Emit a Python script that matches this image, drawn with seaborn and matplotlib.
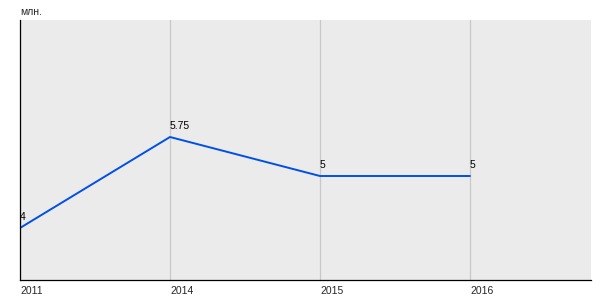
import matplotlib
matplotlib.use("Agg")
import matplotlib.pyplot as plt
import seaborn as sns
import pandas as pd

years = ["2011", "2014", "2015", "2016"]
values = [4, 5.75, 5, 5]
value_labels = ["4", "5.75", "5", "5"]
unit_label = "млн."

sns.set_theme(style="white")
plt.rcParams['font.family'] = ['Liberation Sans', 'DejaVu Sans']

df = pd.DataFrame({"pos": range(len(years)), "value": values})

fig = plt.figure(figsize=(6, 3), dpi=100)
ax = fig.add_axes([20/600, 20/300, 571/600, 260/300])
ax.set_facecolor("#ebebeb")

sns.lineplot(data=df, x="pos", y="value", ax=ax, color="#0050e6", linewidth=1.4)

ax.set_xlim(0, 3.807)
ax.set_ylim(3, 8)
ax.set_xticks(df["pos"])
ax.set_xticklabels(years, fontsize=7.5, ha="left")
ax.set_yticks([])
ax.set_xlabel("")
ax.set_ylabel("")
ax.tick_params(axis="x", length=0, pad=4)
for x in df["pos"]:
    ax.axvline(x, color="#c8c8c8", linewidth=0.9, zorder=0)

for s in ["top", "right"]:
    ax.spines[s].set_visible(False)
for s in ["left", "bottom"]:
    ax.spines[s].set_color("black")
    ax.spines[s].set_linewidth(0.9)

for x, v, lab in zip(df["pos"], values, value_labels):
    ax.annotate(lab, (x, v), xytext=(0, 4), textcoords="offset points",
                fontsize=7.5, ha="left", va="bottom", color="black")

fig.text(20/600, 1 - 12/300, unit_label, fontsize=7.5, ha="left", va="center")

fig.savefig("out.png", dpi=100)
